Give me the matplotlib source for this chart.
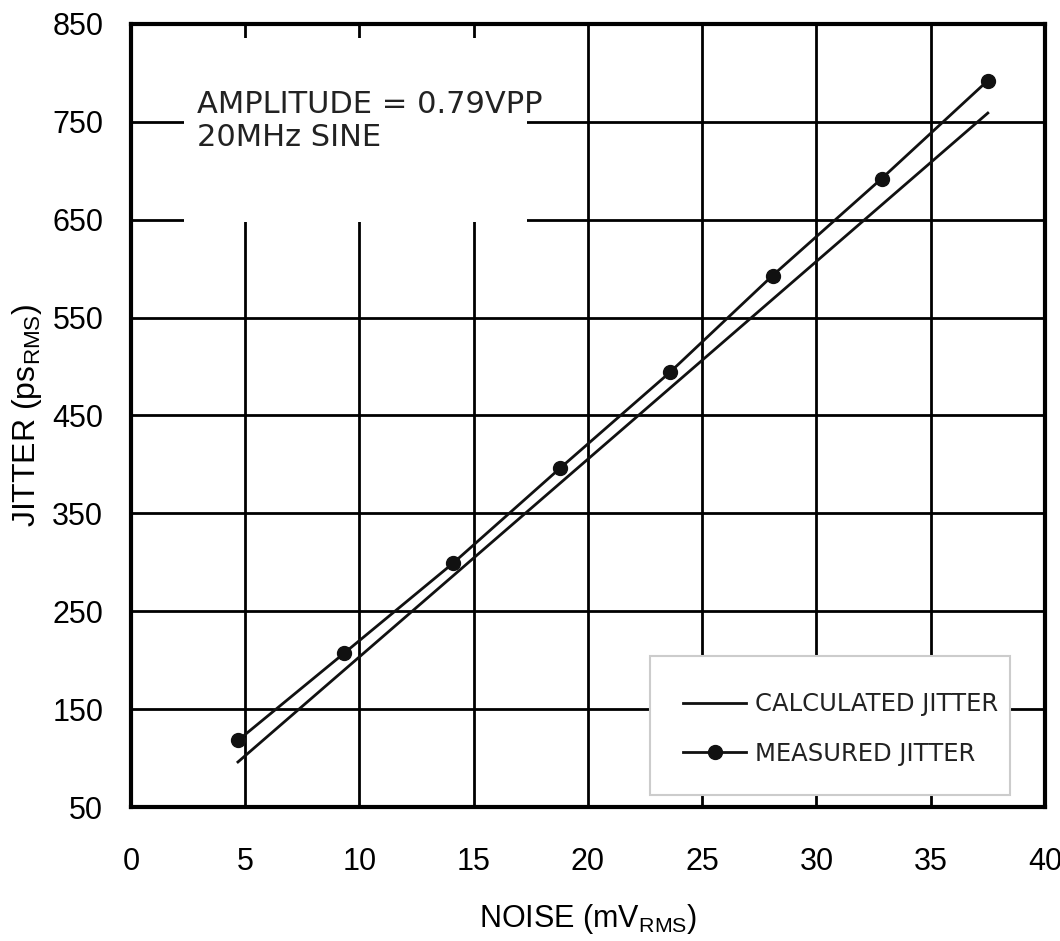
import matplotlib.pyplot as plt
from matplotlib.patches import Rectangle

################################################ data
noise_meas = [4.68, 9.32, 14.09, 18.77, 23.58, 28.08, 32.85, 37.49]   # mV RMS
jitter_meas = [118, 207, 299, 396, 494, 593, 692, 792]               # ps RMS

noise_calc = [4.68, 37.5]
jitter_calc = [96, 759]

x_ticks = [0, 5, 10, 15, 20, 25, 30, 35, 40]
y_ticks = [50, 150, 250, 350, 450, 550, 650, 750, 850]

note = "AMPLITUDE = 0.79VPP\n20MHz SINE"

################################################ figure
plt.rcParams['font.family'] = ['Liberation Sans', 'DejaVu Sans']
plt.rcParams['mathtext.default'] = 'regular'

fig = plt.figure(figsize=(10.6, 9.41), dpi=100)
ax = fig.add_axes([0.1236, 0.1424, 0.8622, 0.8321])

ax.set_xlim(0, 40)
ax.set_ylim(50, 850)
ax.set_xticks(x_ticks)
ax.set_yticks(y_ticks)
ax.tick_params(length=0, labelsize=22)
ax.tick_params(axis='x', pad=29)
ax.tick_params(axis='y', pad=20)
ax.grid(True, color='black', linewidth=2)
ax.set_axisbelow(True)
for s in ax.spines.values():
    s.set_linewidth(3)

ax.plot(noise_calc, jitter_calc, color='#111111', linewidth=2, label='CALCULATED JITTER', zorder=3)
ax.plot(noise_meas, jitter_meas, color='#111111', linewidth=2, marker='o', markersize=10,
        label='MEASURED JITTER', zorder=3)

# white patch hiding the grid behind the note
ax.add_patch(Rectangle((2.3, 648), 15.05, 188, facecolor='white', edgecolor='none', zorder=2))
ax.text(2.88, 751, note, fontsize=22, family='DejaVu Sans', color='#222222',
        va='center', ha='left', linespacing=1.2, zorder=4)

# legend box drawn by hand (asymmetric padding in the original)
ax.add_patch(Rectangle((0.568, 0.0153), 0.3937, 0.1776, transform=ax.transAxes,
                       facecolor='white', edgecolor='#cccccc', linewidth=1.5, zorder=5))
leg = ax.legend(loc='upper left', bbox_to_anchor=(0.604, 0.1465), frameon=False,
                prop={'family': 'DejaVu Sans', 'size': 17.5}, borderpad=0, borderaxespad=0,
                handlelength=2.6, handletextpad=0.37, labelspacing=1.05)
leg.set_zorder(6)
for t in leg.get_texts():
    t.set_color('#222222')

ax.set_xlabel('NOISE (mV$_{RMS}$)', fontsize=22, labelpad=18)
ax.set_ylabel('JITTER (ps$_{RMS}$)', fontsize=23, labelpad=6)

plt.savefig('out.png', dpi=100)
